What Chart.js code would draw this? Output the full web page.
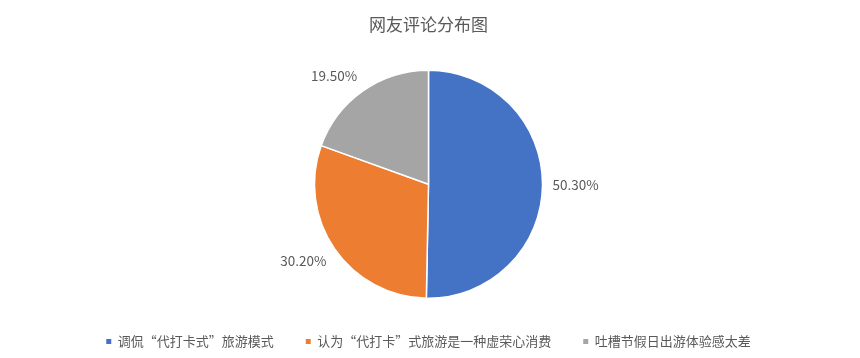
<!DOCTYPE html>
<html>
<head>
<meta charset="utf-8">
<script src="https://cdn.jsdelivr.net/npm/chart.js@4/dist/chart.umd.min.js"></script>
<style>
  html, body { margin: 0; padding: 0; background: #ffffff; }
  #wrap { width: 860px; height: 358px; position: relative; }
</style>
</head>
<body>
<div id="wrap"><canvas id="c" width="860" height="358"></canvas></div>
<script>
const chartTitle = '网友评论分布图';
const categories = ['调侃“代打卡式”旅游模式', '认为“代打卡”式旅游是一种虚荣心消费', '吐槽节假日出游体验感太差'];
const values = [50.3, 30.2, 19.5];
const colors = ['#4472C4', '#ED7D31', '#A5A5A5'];

const FONT = '"Noto Sans CJK SC", "Microsoft YaHei", sans-serif';
const TEXT = '#595959';

const outsideLabels = {
  id: 'outsideLabels',
  afterDatasetsDraw(chart) {
    const ctx = chart.ctx;
    const meta = chart.getDatasetMeta(0);
    ctx.save();
    ctx.font = '13.5px ' + FONT;
    ctx.fillStyle = TEXT;
    meta.data.forEach((arc, i) => {
      const p = arc.getProps(['x', 'y', 'startAngle', 'endAngle', 'outerRadius'], true);
      const mid = (p.startAngle + p.endAngle) / 2;
      const dx = Math.cos(mid), dy = Math.sin(mid);
      const r = p.outerRadius + 10;
      const ax = p.x + dx * r, ay = p.y + dy * r;
      ctx.textAlign = dx > 0.2 ? 'left' : (dx < -0.2 ? 'right' : 'center');
      ctx.textBaseline = dy > 0.2 ? 'top' : (dy < -0.2 ? 'bottom' : 'middle');
      ctx.fillText(values[i].toFixed(2) + '%', ax, ay);
    });
    ctx.restore();
  }
};

new Chart(document.getElementById('c'), {
  type: 'pie',
  data: {
    labels: categories,
    datasets: [{
      data: values,
      backgroundColor: colors,
      borderColor: '#ffffff',
      borderWidth: 1.5,
      radius: 114
    }]
  },
  plugins: [outsideLabels],
  options: {
    responsive: false,
    animation: false,
    layout: { padding: { top: 0, bottom: 0, left: 0, right: 3 } },
    plugins: {
      title: {
        display: true,
        text: chartTitle,
        color: TEXT,
        font: { family: FONT, size: 17, weight: 'normal' },
        padding: { top: 14, bottom: 31 }
      },
      legend: {
        position: 'bottom',
        labels: {
          color: TEXT,
          font: { family: FONT, size: 13 },
          usePointStyle: true,
          pointStyle: 'rect',
          boxHeight: 5,
          pointStyleWidth: 5,
          padding: 32,
          generateLabels(chart) {
            const items = Chart.overrides.pie.plugins.legend.labels.generateLabels(chart);
            return items.map(it => Object.assign(it, { lineWidth: 0, strokeStyle: 'rgba(0,0,0,0)' }));
          }
        }
      },
      tooltip: { enabled: false }
    }
  }
});
</script>
</body>
</html>
